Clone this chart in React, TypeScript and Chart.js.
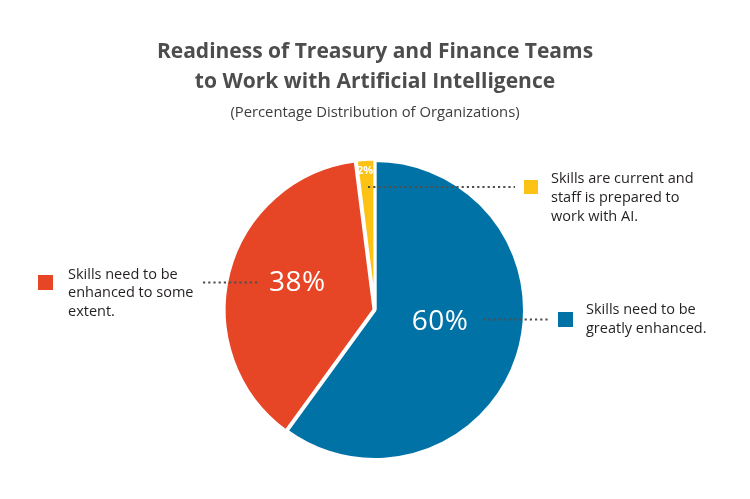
import { useEffect, useRef } from 'react'
import { Chart, registerables } from 'chart.js'
import type { Plugin } from 'chart.js'

Chart.register(...registerables)

// data
const categories = [
  ['Skills need to be', 'greatly enhanced.'],
  ['Skills need to be', 'enhanced to some', 'extent.'],
  ['Skills are current and', 'staff is prepared to', 'work with AI.'],
]
const shares = [60, 38, 2]
const sliceColors = ['#0072A5', '#E64626', '#FDC314']
const sliceOffsets = [0, 4, 3]

const FONT = '"Open Sans", "DejaVu Sans", sans-serif'

// call-out layout (page pixels), label spot as fraction of the pie radius
const callouts = [
  { box: [558, 312, 15], textX: 586, textTop: 299, lh: 19, lead: [483, 550], label: [0.435, 0.08], size: 28, weight: 400 },
  { box: [38, 275, 15], textX: 68, textTop: 265, lh: 18.4, lead: [203, 258], label: [-0.52, -0.18], size: 28, weight: 400 },
  { box: [524, 180, 14], textX: 551, textTop: 169.3, lh: 18.7, lead: [368, 515], label: [-0.067, -0.93], size: 11, weight: 700 },
]

const calloutPlugin: Plugin<'pie'> = {
  id: 'callouts',
  afterDatasetsDraw(chart) {
    const ctx = chart.ctx
    const meta = chart.getDatasetMeta(0)
    ctx.save()
    callouts.forEach((c) => {
      const y = c.box[1] + c.box[2] / 2
      ctx.beginPath()
      ctx.setLineDash([2.2, 3])
      ctx.lineWidth = 2.2
      ctx.strokeStyle = '#4f4f4f'
      ctx.moveTo(c.lead[0], y)
      ctx.lineTo(c.lead[1], y)
      ctx.stroke()
    })
    ctx.setLineDash([])
    meta.data.forEach((el: any, i) => {
      const c = callouts[i]
      const r = el.outerRadius
      ctx.fillStyle = '#ffffff'
      ctx.font = `${c.weight} ${c.size}px ${FONT}`
      ;(ctx as any).letterSpacing = c.size > 20 ? '0.5px' : '0px'
      ctx.textAlign = 'center'
      ctx.textBaseline = 'middle'
      ctx.fillText(`${shares[i]}%`, el.x + c.label[0] * r, el.y + c.label[1] * r)
    })
    ctx.restore()
  },
}

export default function App() {
  const canvasRef = useRef<HTMLCanvasElement>(null)

  useEffect(() => {
    if (!canvasRef.current) return
    const chart = new Chart(canvasRef.current, {
      type: 'pie',
      data: {
        labels: categories.map((l) => l.join(' ')),
        datasets: [
          {
            data: shares,
            backgroundColor: sliceColors,
            borderColor: '#ffffff',
            borderWidth: 3,
            offset: sliceOffsets,
          },
        ],
      },
      options: {
        responsive: true,
        maintainAspectRatio: false,
        animation: false,
        layout: { padding: { top: 157, bottom: 36, left: 0, right: 0 } },
        plugins: {
          legend: { display: false },
          tooltip: { enabled: false },
          title: { display: false },
        },
      },
      plugins: [calloutPlugin],
    })
    return () => chart.destroy()
  }, [])

  return (
    <div style={{ position: 'absolute', left: 0, top: 0, width: 750, height: 499, background: '#fff', fontFamily: FONT }}>
      <canvas ref={canvasRef} />
      <div style={{ position: 'absolute', left: 0, width: 750, top: 35, textAlign: 'center', fontSize: 21, lineHeight: '30px', fontWeight: 700, color: '#4d4d4d' }}>
        Readiness of Treasury and Finance Teams
        <br />
        to Work with Artificial Intelligence
      </div>
      <div style={{ position: 'absolute', left: 0, width: 750, top: 101, textAlign: 'center', fontSize: 14.8, lineHeight: '20px', color: '#3d3d3d' }}>
        (Percentage Distribution of Organizations)
      </div>
      {callouts.map((c, i) => (
        <div key={i}>
          <div style={{ position: 'absolute', left: c.box[0], top: c.box[1], width: c.box[2], height: c.box[2], background: sliceColors[i] }} />
          <div style={{ position: 'absolute', left: c.textX, top: c.textTop, fontSize: 14.5, lineHeight: `${c.lh}px`, color: '#231f20', whiteSpace: 'nowrap' }}>
            {categories[i].map((line, j) => (
              <div key={j}>{line}</div>
            ))}
          </div>
        </div>
      ))}
    </div>
  )
}
